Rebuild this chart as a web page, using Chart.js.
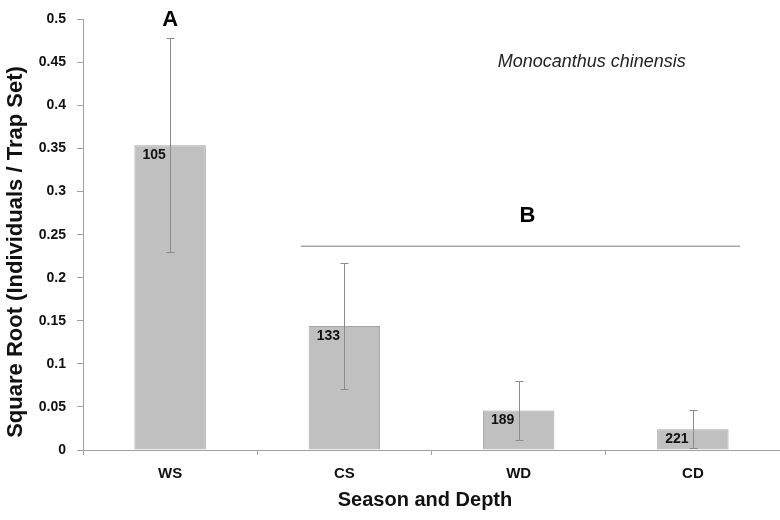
<!DOCTYPE html>
<html>
<head>
<meta charset="utf-8">
<script src="https://cdn.jsdelivr.net/npm/chart.js@4/dist/chart.umd.min.js"></script>
<style>
  html, body { margin: 0; padding: 0; background: #ffffff; }
  #wrap { width: 780px; height: 520px; }
</style>
</head>
<body>
<div id="wrap"><canvas id="chart" width="780" height="520"></canvas></div>
<script>
// Season / depth groups and the square-root catch per trap set
const categories = ['WS', 'CS', 'WD', 'CD'];
const meanValues = [0.354, 0.144, 0.046, 0.024];
const errorValues = [0.124, 0.073, 0.034, 0.022];
const trapCounts = ['105', '133', '189', '221'];
const yTickValues = [0, 0.05, 0.1, 0.15, 0.2, 0.25, 0.3, 0.35, 0.4, 0.45, 0.5];

// Significance groups: letter, its anchor (category index, value)
const groupLetters = [
  { text: 'A', x: 0.0, y: 0.499 },
  { text: 'B', x: 2.05, y: 0.272 }
];
// Line spanning group B (category index range, value)
const groupLine = { from: 0.75, to: 3.27, y: 0.2365 };
const speciesName = 'Monocanthus chinensis';

const FONT = '"Liberation Sans", Arial, Helvetica, sans-serif';

const annotate = {
  id: 'annotate',
  afterDatasetsDraw(chart) {
    const { ctx, scales: { x, y } } = chart;
    const meta = chart.getDatasetMeta(0);
    ctx.save();

    // error bars
    ctx.strokeStyle = '#8c8c8c';
    ctx.lineWidth = 1;
    meta.data.forEach((bar, i) => {
      const cx = Math.round(bar.x) + 0.5;
      const yTop = Math.round(y.getPixelForValue(meanValues[i] + errorValues[i])) + 0.5;
      const yBot = Math.round(y.getPixelForValue(Math.max(0, meanValues[i] - errorValues[i]))) + 0.5;
      ctx.beginPath();
      ctx.moveTo(cx, yTop); ctx.lineTo(cx, yBot);
      ctx.moveTo(cx - 4, yTop); ctx.lineTo(cx + 4, yTop);
      ctx.moveTo(cx - 4, yBot); ctx.lineTo(cx + 4, yBot);
      ctx.stroke();
    });

    // sample sizes inside the bars
    ctx.fillStyle = '#111111';
    ctx.font = 'bold 14px ' + FONT;
    ctx.textAlign = 'left';
    ctx.textBaseline = 'middle';
    meta.data.forEach((bar, i) => {
      const left = bar.x - bar.width / 2;
      ctx.fillText(trapCounts[i], left + 8, bar.y + 10);
    });

    // group B line
    ctx.strokeStyle = '#a8a8a8';
    ctx.lineWidth = 1.5;
    const ly = y.getPixelForValue(groupLine.y);
    ctx.beginPath();
    ctx.moveTo(x.getPixelForValue(groupLine.from), ly);
    ctx.lineTo(x.getPixelForValue(groupLine.to), ly);
    ctx.stroke();

    // group letters
    ctx.fillStyle = '#000000';
    ctx.font = 'bold 22px ' + FONT;
    ctx.textAlign = 'center';
    groupLetters.forEach(g => {
      ctx.fillText(g.text, x.getPixelForValue(g.x), y.getPixelForValue(g.y));
    });

    // species name
    ctx.fillStyle = '#222222';
    ctx.font = 'italic 18px ' + FONT;
    ctx.fillText(speciesName, x.getPixelForValue(2.42), y.getPixelForValue(0.451));

    // axis titles
    ctx.fillStyle = '#111111';
    ctx.font = 'bold 20px ' + FONT;
    ctx.fillText('Season and Depth', 425, 500);
    ctx.translate(16, 252);
    ctx.rotate(-Math.PI / 2);
    ctx.font = 'bold 22px ' + FONT;
    ctx.fillText('Square Root (Individuals / Trap Set)', 0, 0);
    ctx.restore();
  }
};

new Chart(document.getElementById('chart'), {
  type: 'bar',
  data: {
    labels: categories,
    datasets: [{
      data: meanValues,
      backgroundColor: '#c0c0c0',
      borderColor: '#a4a4a4',
      borderWidth: 1,
      categoryPercentage: 1.0,
      barPercentage: 0.41
    }]
  },
  options: {
    responsive: false,
    animation: false,
    devicePixelRatio: 1,
    layout: { padding: { top: 12, left: 0, right: 0, bottom: 0 } },
    plugins: {
      legend: { display: false },
      tooltip: { enabled: false }
    },
    scales: {
      x: {
        offset: true,
        grid: { offset: true, drawOnChartArea: false, drawTicks: true, tickLength: 5, color: '#a0a0a0' },
        border: { display: true, color: '#a0a0a0', width: 1 },
        ticks: { color: '#111111', padding: 10, font: { family: FONT, size: 15, weight: 'bold' } },
        afterFit(scale) { scale.height = 70; }
      },
      y: {
        min: 0,
        max: 0.5,
        afterBuildTicks(scale) { scale.ticks = yTickValues.map(v => ({ value: v })); },
        grid: { drawOnChartArea: false, drawTicks: true, tickLength: 6, color: '#a0a0a0' },
        border: { display: true, color: '#a0a0a0', width: 1 },
        ticks: {
          color: '#111111',
          padding: 11,
          font: { family: FONT, size: 14, weight: 'bold' },
          callback: v => String(Number(v.toFixed(2)))
        },
        afterFit(scale) { scale.width = 83; }
      }
    }
  },
  plugins: [annotate]
});
</script>
</body>
</html>
